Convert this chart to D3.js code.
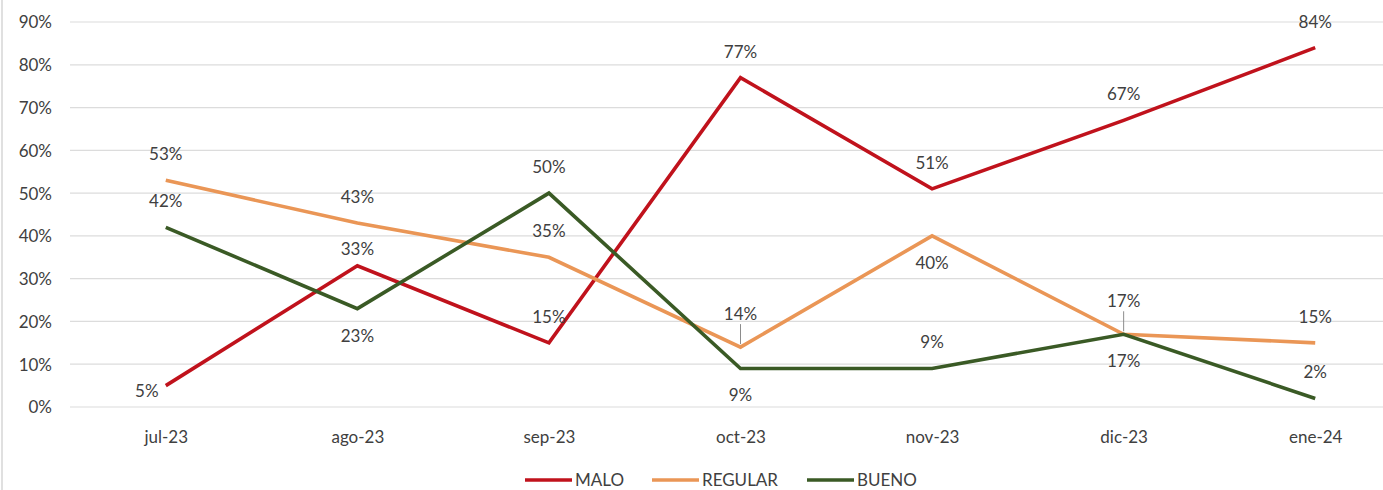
<!DOCTYPE html>
<html><head><meta charset="utf-8">
<script src="https://cdn.jsdelivr.net/npm/d3@7"></script>
<style>
html,body{margin:0;padding:0;background:#fff;}
svg{display:block;font-family:Lato,"Open Sans",sans-serif;}
</style></head>
<body>
<svg id="chart" width="1383" height="490"></svg>
<script>
const categories = ["jul-23","ago-23","sep-23","oct-23","nov-23","dic-23","ene-24"];
const seriesNames = ["MALO","REGULAR","BUENO"];
const malo    = [5, 33, 15, 77, 51, 67, 84];
const regular = [53, 43, 35, 14, 40, 17, 15];
const bueno   = [42, 23, 50, 9, 9, 17, 2];
const yTicks  = [0,10,20,30,40,50,60,70,80,90];

(function(){
const seriesColors = {MALO:"#c0121c", REGULAR:"#ea9656", BUENO:"#3a5a25"};
// label placement per point: a=above, b=below, l=left, n=near above, L=above with leader
const placement = {
  MALO:    ["l","n","a","a","a","a","a"],
  REGULAR: ["a","a","a","L","b","L","a"],
  BUENO:   ["a","b","a","b","a","b","a"]
};
const seriesData = {MALO:malo, REGULAR:regular, BUENO:bueno};
const FS = 17;

const svg = d3.select("#chart");
const W = 1383;
const pLeft = 70, pRight = 1411, pTop = 22, pBottom = 407;

const x = d3.scalePoint().domain(categories).range([pLeft, pRight]).padding(0.5);
const y = d3.scaleLinear().domain([0, 90]).range([pBottom, pTop]);

// left border
svg.append("line").attr("x1",2).attr("x2",2).attr("y1",0).attr("y2",490)
  .attr("stroke","#e0e0e0").attr("stroke-width",2);

// gridlines
svg.append("g").selectAll("line").data(yTicks).join("line")
  .attr("x1", pLeft).attr("x2", W)
  .attr("y1", d => y(d)).attr("y2", d => y(d))
  .attr("stroke", "#dcdcdc").attr("stroke-width", 1.2);

// y axis labels
const yAxis = d3.axisLeft(y).tickValues(yTicks).tickFormat(d => d + "%").tickSize(0).tickPadding(0);
const gy = svg.append("g").attr("transform", `translate(52,0)`).call(yAxis);
gy.select(".domain").remove();
gy.selectAll("text").attr("font-size", FS).attr("fill", "#404040").attr("dy","0.35em")
  .attr("font-family","Lato, sans-serif");

// x axis labels
const xAxis = d3.axisBottom(x).tickSize(0).tickPadding(0);
const gx = svg.append("g").attr("transform", `translate(0,${pBottom + 30})`).call(xAxis);
gx.select(".domain").remove();
gx.selectAll("text").attr("font-size", FS).attr("fill", "#404040").attr("dy","0.35em")
  .attr("font-family","Lato, sans-serif");

// lines
const line = d3.line().x((d,i) => x(categories[i])).y(d => y(d));
seriesNames.forEach(name => {
  svg.append("path").datum(seriesData[name])
    .attr("fill","none").attr("stroke", seriesColors[name])
    .attr("stroke-width", 3.6).attr("stroke-linejoin","miter")
    .attr("d", line);
});

// labels
const lg = svg.append("g").attr("font-size", FS).attr("fill", "#404040");
seriesNames.forEach(name => {
  seriesData[name].forEach((v,i) => {
    const px = x(categories[i]), py = y(v);
    const p = placement[name][i];
    let tx = px, ty = py - 26;
    if (p === "b") ty = py + 27;
    if (p === "n") ty = py - 17;
    if (p === "l") { tx = px - 19; ty = py + 5; }
    if (p === "L") {
      ty = py - 33;
      lg.append("line").attr("x1", px).attr("x2", px)
        .attr("y1", ty + 10).attr("y2", py - 3)
        .attr("stroke", "#8c8c8c").attr("stroke-width", 1);
    }
    lg.append("text").attr("x", tx).attr("y", ty).attr("dy","0.35em")
      .attr("text-anchor","middle").text(v + "%");
  });
});

// legend
const legendX = {MALO:525, REGULAR:652, BUENO:807};
const lgd = svg.append("g");
seriesNames.forEach(name => {
  const g = lgd.append("g").attr("transform", `translate(${legendX[name]},480)`);
  g.append("line").attr("x1",0).attr("x2",47).attr("y1",0).attr("y2",0)
    .attr("stroke", seriesColors[name]).attr("stroke-width",3.6);
  g.append("text").attr("x",50).attr("y",0).attr("dy","0.35em")
    .attr("font-size",FS).attr("fill","#404040").text(name);
});
})();
</script>
</body></html>
